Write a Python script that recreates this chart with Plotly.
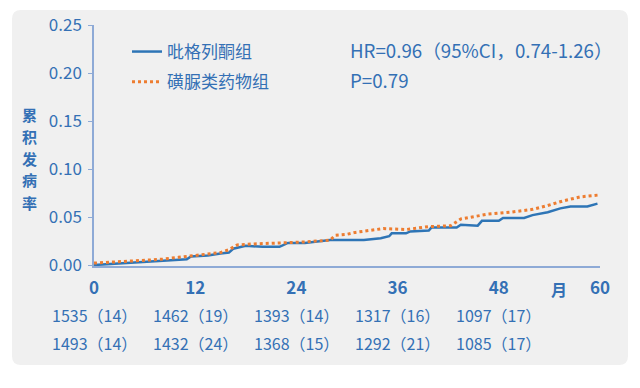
import plotly.graph_objects as go

# ---- data ----
months_pio = [0, 2, 4, 6, 8, 10, 11, 11.5, 13.5, 15, 16, 16.5, 18, 20, 22, 23, 25, 28, 32, 34, 35,
              35.3, 37, 37.5, 39.7, 40, 43, 43.5, 45.5, 46, 48, 48.5, 51, 52, 53.8, 55.3, 56.5, 58.5, 59.7]
rate_pio = [0.000, 0.001, 0.002, 0.003, 0.004, 0.005, 0.006, 0.009, 0.010, 0.012, 0.013, 0.017, 0.020,
            0.019, 0.019, 0.023, 0.023, 0.026, 0.026, 0.028, 0.030, 0.033, 0.033, 0.035, 0.036, 0.039,
            0.039, 0.042, 0.041, 0.046, 0.046, 0.049, 0.049, 0.052, 0.055, 0.059, 0.061, 0.061, 0.064]

months_su = [0, 2, 4, 6, 8, 10, 11.5, 12, 14, 15, 16, 17, 19, 22.5, 25, 28, 28.6, 30, 31, 34.3, 37,
             39.7, 42.3, 43.5, 45, 46.7, 49.4, 52, 53.8, 55.7, 57.7, 59.9]
rate_su = [0.002, 0.003, 0.004, 0.005, 0.006, 0.008, 0.009, 0.010, 0.012, 0.013, 0.016, 0.021, 0.022,
           0.023, 0.024, 0.026, 0.031, 0.032, 0.034, 0.038, 0.037, 0.040, 0.041, 0.048, 0.050, 0.053,
           0.055, 0.058, 0.062, 0.067, 0.071, 0.073]

series_names = ["吡格列酮组", "磺脲类药物组"]
x_ticks = [0, 12, 24, 36, 48, 60]
y_ticks = [0.00, 0.05, 0.10, 0.15, 0.20, 0.25]
risk_pio = ["1535（14）", "1462（19）", "1393（14）", "1317（16）", "1097（17）"]
risk_su = ["1493（14）", "1432（24）", "1368（15）", "1292（21）", "1085（17）"]
risk_months = [0, 12, 24, 36, 48]
y_title = "累积发病率"
x_unit = "月"
hr_text = "HR=0.96（95%CI，0.74-1.26）"
p_text = "P=0.79"

# ---- style ----
FONT = "Noto Sans CJK SC"
TXT = "#3470b5"
BLUE = "#2e75b6"
ORANGE = "#ed7d31"
AXIS = "#8eaad6"

fig = go.Figure()
fig.add_trace(go.Scatter(x=months_pio, y=rate_pio, mode="lines", name=series_names[0],
                         legendgroup="a", line=dict(color=BLUE, width=2.5)))
fig.add_trace(go.Scatter(x=months_su, y=rate_su, mode="lines", name=series_names[1],
                         legendgroup="b", line=dict(color=ORANGE, width=3, dash="dot")))

W, H = 640, 388
L, R, T, B = 94, 40, 25, 122
pw, ph = W - L - R, H - T - B


def px(xp):
    return (xp - L) / pw


def py(yp):
    return (H - B - yp) / ph


# rounded background panel
x0, x1, y0, y1 = px(12), px(628), py(365), py(10)
rx, ry = 9 / pw, 9 / ph
path = (f"M {x0+rx},{y0} L {x1-rx},{y0} Q {x1},{y0} {x1},{y0+ry} "
        f"L {x1},{y1-ry} Q {x1},{y1} {x1-rx},{y1} L {x0+rx},{y1} Q {x0},{y1} {x0},{y1-ry} "
        f"L {x0},{y0+ry} Q {x0},{y0} {x0+rx},{y0} Z")
fig.add_shape(type="path", path=path, xref="paper", yref="paper",
              fillcolor="#f0f0f0", line=dict(width=0), layer="below")

annotations = []
for i, ch in enumerate(y_title):
    annotations.append(dict(text=ch, xref="paper", yref="paper",
                            x=px(29), y=py(114 + 22 * i), showarrow=False,
                            xanchor="center", yanchor="middle",
                            font=dict(family=FONT, size=15, color=TXT, weight="bold")))
annotations.append(dict(text=x_unit, xref="paper", yref="paper", x=px(559), y=py(289),
                        showarrow=False, xanchor="center", yanchor="middle",
                        font=dict(family=FONT, size=16, color=TXT, weight="bold")))
annotations.append(dict(text=hr_text, xref="paper", yref="paper", x=px(348), y=py(50),
                        showarrow=False, xanchor="left", yanchor="middle",
                        font=dict(family=FONT, size=18.7, color=TXT)))
annotations.append(dict(text=p_text, xref="paper", yref="paper", x=px(348), y=py(79),
                        showarrow=False, xanchor="left", yanchor="middle",
                        font=dict(family=FONT, size=18.7, color=TXT)))
for m, a, b in zip(risk_months, risk_pio, risk_su):
    annotations.append(dict(text=a, xref="x", yref="paper", x=m, y=py(315), showarrow=False,
                            xanchor="center", yanchor="middle",
                            font=dict(family=FONT, size=16, color=TXT)))
    annotations.append(dict(text=b, xref="x", yref="paper", x=m, y=py(343), showarrow=False,
                            xanchor="center", yanchor="middle",
                            font=dict(family=FONT, size=16, color=TXT)))

fig.update_layout(
    width=W, height=H,
    margin=dict(l=L, r=R, t=T, b=B, pad=0, autoexpand=False),
    paper_bgcolor="white", plot_bgcolor="rgba(0,0,0,0)",
    font=dict(family=FONT, color=TXT),
    showlegend=True,
    legend=dict(x=px(127), y=py(34), xanchor="left", yanchor="top",
                bgcolor="rgba(0,0,0,0)", font=dict(family=FONT, size=17, color=TXT),
                tracegroupgap=5, itemwidth=30),
    annotations=annotations,
)
fig.update_xaxes(range=[0, 60], tickvals=x_ticks, ticktext=[str(v) for v in x_ticks],
                 showline=True, linecolor=AXIS, linewidth=1.5, showgrid=False, zeroline=False,
                 ticks="", ticklabelstandoff=6, automargin=False,
                 tickfont=dict(family=FONT, size=17, color=TXT, weight="bold"))
fig.update_yaxes(range=[-0.001, 0.25], tickvals=y_ticks, tickformat=".2f",
                 showline=True, linecolor=AXIS, linewidth=1.5, showgrid=False, zeroline=False,
                 ticks="outside", ticklen=4, tickcolor=AXIS, ticklabelstandoff=3, automargin=False,
                 tickfont=dict(family=FONT, size=17, color=TXT))

fig.write_html("out.html", config={"displayModeBar": False},
               post_script="document.body.style.margin='0';")
